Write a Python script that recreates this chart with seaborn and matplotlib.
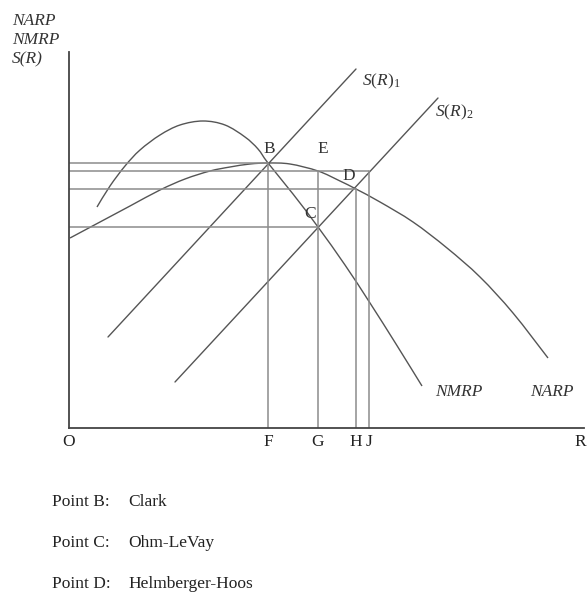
import matplotlib
matplotlib.use("Agg")
import matplotlib.pyplot as plt
from matplotlib.path import Path
from matplotlib.patches import PathPatch
import seaborn as sns
import pandas as pd

# ---- data (diagram units: x to the right of O, y above the R axis) ----
nmrp_x = [28, 41, 56, 71, 91, 111, 134, 156, 176, 189, 199, 224, 249, 276, 301, 327, 353]
nmrp_y = [221, 242, 262, 278, 293, 303, 307, 303, 291, 279, 265, 234, 201, 163, 125, 84, 42]

narp_x = [1, 31, 61, 91, 116, 141, 161, 181, 199, 221, 249, 271, 287, 311, 344, 378, 411, 444, 479]
narp_y = [190, 206, 222, 238, 249, 257, 261, 264, 265, 264, 257, 247, 239, 226, 206, 180, 151, 115, 70]

s1_x = [39, 287]
s1_y = [91, 359]
s2_x = [106, 369]
s2_y = [46, 330]

# key points
pt_names = ["B", "C", "D", "E", "J"]
pt_x = [199, 249, 287, 249, 300]
pt_y = [265, 201, 239, 257, 257]

tick_names = ["O", "F", "G", "H", "J", "R"]
tick_pos = [0, 199, 249, 287, 300, 511]

legend_rows = [("Point B:", "Clark"), ("Point C:", "Ohm-LeVay"), ("Point D:", "Helmberger-Hoos")]

# ---- style ----
sns.set_theme(style="white")
plt.rcParams["font.family"] = ["Liberation Serif", "DejaVu Serif"]
plt.rcParams["mathtext.fontset"] = "custom"
plt.rcParams["mathtext.it"] = "Liberation Serif:italic"
plt.rcParams["mathtext.rm"] = "Liberation Serif"

W, H = 587, 592
fig = plt.figure(figsize=(W / 100, H / 100), dpi=100)
ox, oy = 69, 428
ax = fig.add_axes([ox / W, (H - oy) / H, (584 - ox) / W, (oy - 52) / H])
ax.set_xlim(0, 584 - ox)
ax.set_ylim(0, oy - 52)

curve_col = "#555555"
guide_col = "#8c8c8c"
lw = 1.0


def smooth_path(xs, ys):
    """Catmull-Rom rendering through the read points, as cubic Bezier segments."""
    pts = list(zip(xs, ys))
    verts = [pts[0]]
    codes = [Path.MOVETO]
    n = len(pts)
    for i in range(n - 1):
        p0 = pts[i - 1] if i > 0 else pts[i]
        p1 = pts[i]
        p2 = pts[i + 1]
        p3 = pts[i + 2] if i + 2 < n else pts[i + 1]
        c1 = (p1[0] + (p2[0] - p0[0]) / 6, p1[1] + (p2[1] - p0[1]) / 6)
        c2 = (p2[0] - (p3[0] - p1[0]) / 6, p2[1] - (p3[1] - p1[1]) / 6)
        verts += [c1, c2, p2]
        codes += [Path.CURVE4] * 3
    return Path(verts, codes)


for xs, ys in ((nmrp_x, nmrp_y), (narp_x, narp_y)):
    ax.add_patch(PathPatch(smooth_path(xs, ys), fill=False, edgecolor=curve_col, lw=lw))

df_s1 = pd.DataFrame({"x": s1_x, "y": s1_y})
df_s2 = pd.DataFrame({"x": s2_x, "y": s2_y})
for d in (df_s1, df_s2):
    sns.lineplot(data=d, x="x", y="y", sort=False, ax=ax, color=curve_col, lw=lw)

# guide lines
B, C, D, E, J = [(pt_x[i], pt_y[i]) for i in range(5)]
for (px, py) in (B, E, D, J):
    ax.plot([px, px], [0, py], color=guide_col, lw=1.1)
for (px, py) in (B, J, D, C):
    ax.plot([-2, px], [py, py], color=guide_col, lw=1.1)

# point labels
fs = 12.5
tc = "#333333"
ax.text(B[0] + 1, B[1] + 6, "B", ha="center", va="bottom", fontsize=fs, color=tc)
ax.text(C[0] - 8, C[1] + 5, "C", ha="center", va="bottom", fontsize=fs, color=tc)
ax.text(D[0] - 7, D[1] + 5, "D", ha="center", va="bottom", fontsize=fs, color=tc)
ax.text(E[0] + 5, E[1] + 14, "E", ha="center", va="bottom", fontsize=fs, color=tc)

# curve labels
ax.text(s1_x[1] + 6, s1_y[1] - 12, r"$S(R)_1$", fontsize=fs, color=tc, va="center")
ax.text(s2_x[1] - 3, s2_y[1] - 14, r"$S(R)_2$", fontsize=fs, color=tc, va="center")
ax.text(366, 36, "NMRP", fontsize=fs, style="italic", color=tc, va="center")
ax.text(461, 36, "NARP", fontsize=fs, style="italic", color=tc, va="center")

# axes
for s in ("top", "right"):
    ax.spines[s].set_visible(False)
for s in ("left", "bottom"):
    ax.spines[s].set_color("#444444")
    ax.spines[s].set_linewidth(1.3)
ax.set_xticks(tick_pos)
ax.set_xticklabels(tick_names, fontsize=fs, color="#222")
ax.set_yticks([])
ax.tick_params(axis="x", length=0, pad=4)
ax.set_xlabel("")
ax.set_ylabel("")

# y-axis stacked label
for i, t in enumerate(["NARP", "NMRP", "S(R)"]):
    fig.text(12 / W, 1 - (21 + 19 * i) / H, t, fontsize=fs, style="italic",
             color=tc, va="center", ha="left")

# legend rows
for i, (a, b) in enumerate(legend_rows):
    yy = 1 - (502 + 41 * i) / H
    fig.text(52 / W, yy, a, fontsize=fs, color="#222", va="center")
    fig.text(128 / W, yy, b, fontsize=fs, color="#222", va="center")

fig.savefig("out.png", dpi=100, facecolor="white")
